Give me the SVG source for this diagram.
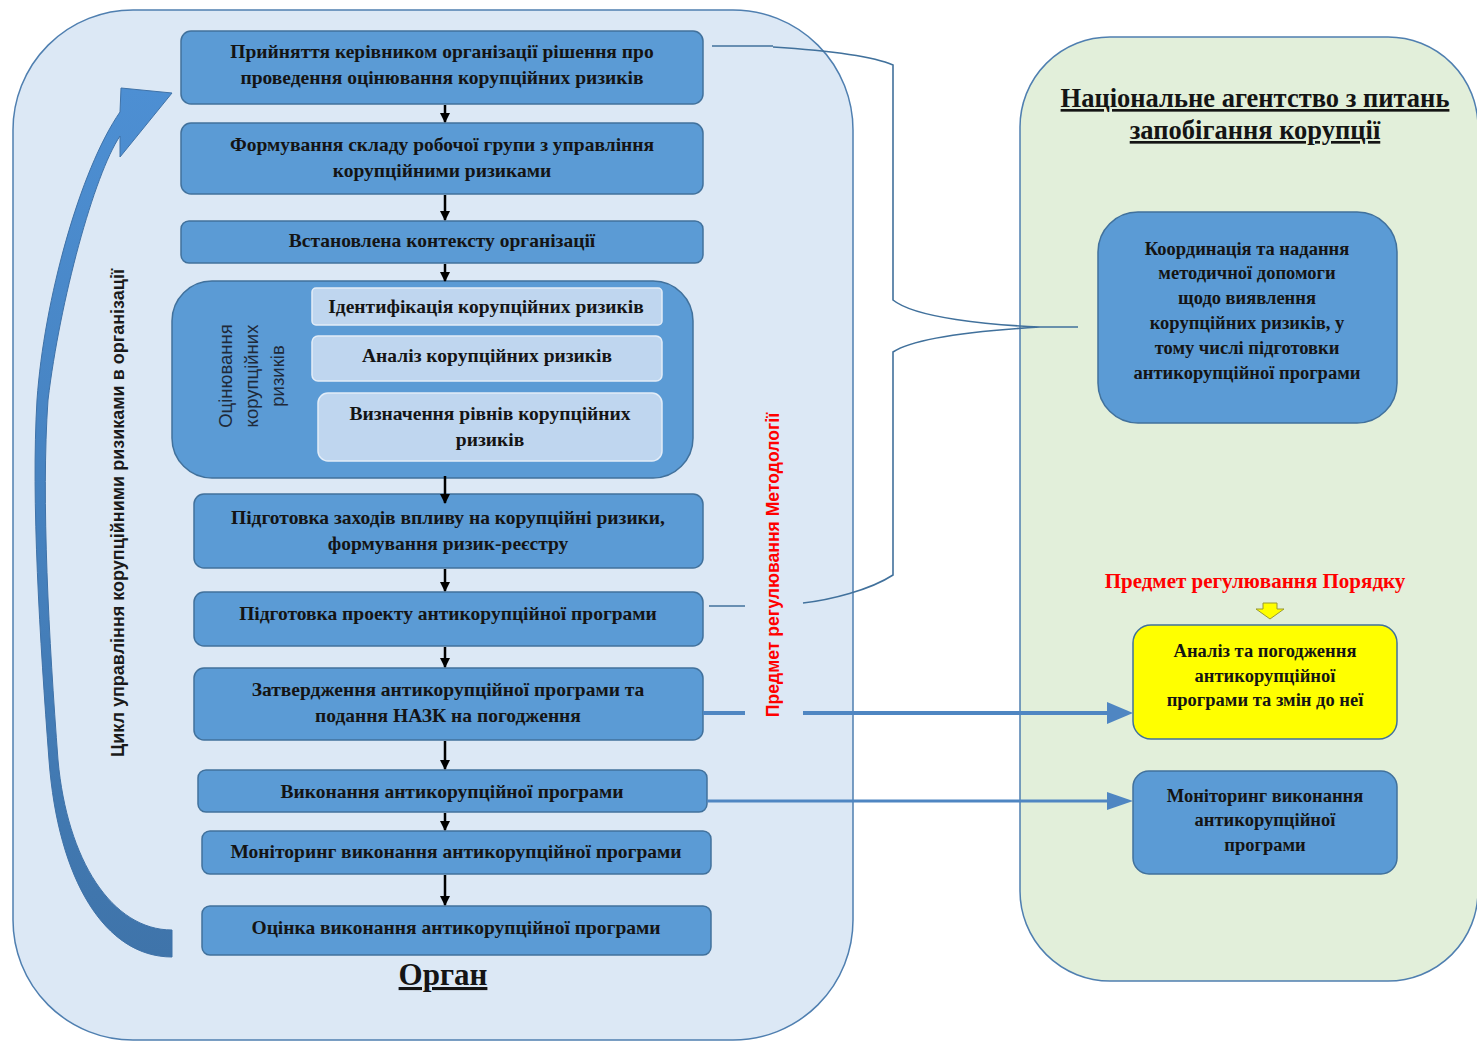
<svg xmlns="http://www.w3.org/2000/svg" width="1477" height="1043" viewBox="0 0 1477 1043">
<defs>
<style>
.box{fill:#5b9bd5;stroke:#41719c;stroke-width:1.5}
.sub{fill:#bfd6ef;stroke:#e3edf8;stroke-width:1.5}
.t{font-family:"Liberation Serif","Times New Roman",serif;font-weight:bold;font-size:19.5px;fill:#141414;text-anchor:middle}
.t2{font-family:"Liberation Serif","Times New Roman",serif;font-weight:bold;font-size:18.5px;fill:#141414;text-anchor:middle}
.title{font-family:"Liberation Serif","Times New Roman",serif;font-weight:bold;font-size:26.5px;fill:#141414;text-anchor:middle;text-decoration:underline}
.red{font-family:"Liberation Serif","Times New Roman",serif;font-weight:bold;font-size:21px;fill:#ff0000;text-anchor:middle}
.vs{font-family:"Liberation Sans",Arial,sans-serif;text-anchor:middle}
.bk{stroke:#000;stroke-width:2.5;fill:none}
.br{stroke:#41719c;stroke-width:1.6;fill:none}
.bl{stroke:#4f86c2;fill:none}
</style>
<linearGradient id="ag" x1="0" y1="0" x2="0" y2="1">
<stop offset="0" stop-color="#4d8fd3"/>
<stop offset="1" stop-color="#3f74aa"/>
</linearGradient>
<marker id="ah" viewBox="0 0 10 10" refX="9" refY="5" markerWidth="4" markerHeight="4" orient="auto" markerUnits="strokeWidth">
<path d="M0,0 L10,5 L0,10 Z" fill="#000"/>
</marker>
</defs>
<rect width="1477" height="1043" fill="#ffffff"/>
<g id="organ-container">
<rect x="13" y="10" width="840" height="1030" rx="120" ry="120" fill="#dce8f5" stroke="#4f7fb0" stroke-width="1.5"/>
<text x="443" y="985" font-family="Liberation Serif, serif" font-weight="bold" font-size="31" text-anchor="middle" text-decoration="underline" fill="#141414">Орган</text>
</g>
<g id="nazk-container">
<rect x="1020" y="37" width="458" height="944" rx="90" ry="90" fill="#e2efda" stroke="#4f7fb0" stroke-width="1.5"/>
<text class="title" x="1255" y="107">Національне агентство з питань</text>
<text class="title" x="1255" y="139">запобігання корупції</text>
</g>
<g id="cycle-arrow">
<path d="M172,957 C105,957 58,880 49,760 C40,640 31,500 37,400 C44,300 80,170 120,112 L121,88 L172,93 L120,157 L120,136 C94,175 60,300 48,400 C41,500 49,640 58,760 C67,860 112,930 172,930 Z" fill="url(#ag)" stroke="#3f72a8" stroke-width="1"/>
<text class="vs" transform="translate(124,513) rotate(-90)" font-size="18" font-weight="bold" fill="#1a1a1a">Цикл управління корупційними ризиками в організації</text>
</g>
<g id="n1"><rect class="box" x="181" y="31" width="522" height="73" rx="10"/>
<text class="t" x="442" y="58">Прийняття керівником організації рішення про</text>
<text class="t" x="442" y="84">проведення оцінювання корупційних ризиків</text></g>
<g id="n2"><rect class="box" x="181" y="123" width="522" height="71" rx="10"/>
<text class="t" x="442" y="151">Формування складу робочої групи з управління</text>
<text class="t" x="442" y="177">корупційними ризиками</text></g>
<g id="n3"><rect class="box" x="181" y="221" width="522" height="42" rx="8"/>
<text class="t" x="442" y="247">Встановлена контексту організації</text></g>
<g id="n4">
<rect class="box" x="172" y="281" width="521" height="197" rx="40"/>
<text class="vs" transform="translate(232,376) rotate(-90)" font-size="18.5" fill="#1f2a3a">Оцінювання</text>
<text class="vs" transform="translate(258,376) rotate(-90)" font-size="18.5" fill="#1f2a3a">корупційних</text>
<text class="vs" transform="translate(284,376) rotate(-90)" font-size="18.5" fill="#1f2a3a">ризиків</text>
</g>
<g id="n4a"><rect class="sub" x="312" y="288" width="350" height="37" rx="4"/>
<text class="t" x="486" y="313">Ідентифікація корупційних ризиків</text></g>
<g id="n4b"><rect class="sub" x="312" y="336" width="350" height="45" rx="6"/>
<text class="t" x="487" y="362">Аналіз корупційних ризиків</text></g>
<g id="n4c"><rect class="sub" x="318" y="393" width="344" height="68" rx="10"/>
<text class="t" x="490" y="420">Визначення рівнів корупційних</text>
<text class="t" x="490" y="446">ризиків</text></g>
<g id="n5"><rect class="box" x="194" y="494" width="509" height="74" rx="10"/>
<text class="t" x="448" y="524">Підготовка заходів впливу на корупційні ризики,</text>
<text class="t" x="448" y="550">формування ризик-реєстру</text></g>
<g id="n6"><rect class="box" x="194" y="592" width="509" height="54" rx="10"/>
<text class="t" x="448" y="620">Підготовка проекту антикорупційної програми</text></g>
<g id="n7"><rect class="box" x="194" y="668" width="509" height="72" rx="10"/>
<text class="t" x="448" y="696">Затвердження антикорупційної програми та</text>
<text class="t" x="448" y="722">подання НАЗК на погодження</text></g>
<g id="n8"><rect class="box" x="198" y="770" width="509" height="42" rx="8"/>
<text class="t" x="452" y="798">Виконання антикорупційної програми</text></g>
<g id="n9"><rect class="box" x="202" y="831" width="509" height="43" rx="8"/>
<text class="t" x="456" y="858">Моніторинг виконання антикорупційної програми</text></g>
<g id="n10"><rect class="box" x="202" y="906" width="509" height="49" rx="8"/>
<text class="t" x="456" y="934">Оцінка виконання антикорупційної програми</text></g>
<g id="methodology-label">
<text class="vs" transform="translate(779,565) rotate(-90)" font-size="17.6" font-weight="bold" fill="#ff0000">Предмет регулювання Методології</text>
</g>
<g id="r1"><rect class="box" x="1098" y="212" width="299" height="211" rx="40"/>
<text class="t2" x="1247" y="255">Координація та надання</text>
<text class="t2" x="1247" y="279">методичної допомоги</text>
<text class="t2" x="1247" y="304">щодо виявлення</text>
<text class="t2" x="1247" y="329">корупційних ризиків, у</text>
<text class="t2" x="1247" y="354">тому числі підготовки</text>
<text class="t2" x="1247" y="379">антикорупційної програми</text></g>
<g id="order-label">
<text class="red" x="1255" y="588">Предмет регулювання Порядку</text>
<polygon points="1263,603 1277,603 1277,609 1284,609 1270,619 1256,609 1263,609" fill="#ffff00" stroke="#9a9a30" stroke-width="1"/>
</g>
<g id="r2"><rect x="1133" y="625" width="264" height="114" rx="18" fill="#ffff00" stroke="#41719c" stroke-width="1.5"/>
<text class="t2" x="1265" y="657">Аналіз та погодження</text>
<text class="t2" x="1265" y="682">антикорупційної</text>
<text class="t2" x="1265" y="706">програми та змін до неї</text></g>
<g id="r3"><rect class="box" x="1133" y="771" width="264" height="103" rx="16"/>
<text class="t2" x="1265" y="802">Моніторинг виконання</text>
<text class="t2" x="1265" y="826">антикорупційної</text>
<text class="t2" x="1265" y="851">програми</text></g>
<g id="connectors">
<line class="bk" x1="445" y1="105" x2="445" y2="122" marker-end="url(#ah)"/>
<line class="bk" x1="445" y1="195" x2="445" y2="220" marker-end="url(#ah)"/>
<line class="bk" x1="445" y1="264" x2="445" y2="281" marker-end="url(#ah)"/>
<line class="bk" x1="445" y1="476" x2="445" y2="503" marker-end="url(#ah)"/>
<line class="bk" x1="445" y1="569" x2="445" y2="591" marker-end="url(#ah)"/>
<line class="bk" x1="445" y1="647" x2="445" y2="667" marker-end="url(#ah)"/>
<line class="bk" x1="445" y1="741" x2="445" y2="769" marker-end="url(#ah)"/>
<line class="bk" x1="445" y1="813" x2="445" y2="830" marker-end="url(#ah)"/>
<line class="bk" x1="445" y1="875" x2="445" y2="905" marker-end="url(#ah)"/>
<path class="br" d="M712,46 L773,46 M773,47 C820,50 870,55 893,65 L893,300 C915,318 990,325 1040,327 L1078,327 M1040,327 C990,330 915,337 893,352 L893,575 C870,590 830,600 803,603 M745,606 L709,606"/>
<path class="bl" stroke-width="4" d="M703,713 L745,713 M803,713 L1110,713"/>
<polygon points="1107,702 1133,713 1107,724" fill="#4f86c2"/>
<path class="bl" stroke-width="3" d="M707,801 L1110,801"/>
<polygon points="1107,792 1133,801 1107,810" fill="#4f86c2"/>
</g>
</svg>
